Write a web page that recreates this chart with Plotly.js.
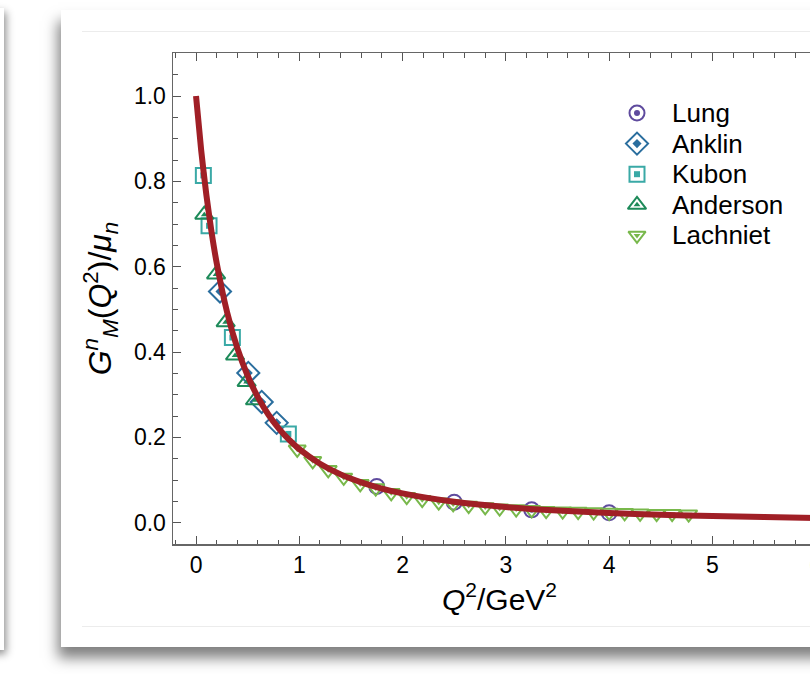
<!DOCTYPE html>
<html>
<head>
<meta charset="utf-8">
<script src="https://cdn.plot.ly/plotly-3.0.1.min.js"></script>
<style>
  html, body { margin:0; padding:0; width:810px; height:674px; overflow:hidden; background:#ffffff; }
  #leftcard { position:absolute; left:-120px; top:8px; width:124px; height:642px; background:#fff; box-shadow: 2px 4px 8px rgba(0,0,0,0.45); }
  #card { position:absolute; left:61px; top:10px; width:900px; height:637px; background:#fff; box-shadow: -3px 11px 13px rgba(0,0,0,0.5); }
  .hline { position:absolute; left:82px; width:800px; height:1px; background:#ececec; }
  #plot { position:absolute; left:0; top:0; width:900px; height:674px; }
</style>
</head>
<body>
<div id="leftcard"></div>
<div id="card"></div>
<div class="hline" style="top:31px"></div>
<div class="hline" style="top:626px"></div>
<div id="plot"></div>
<script>
// ---- data ----
const lungQ2 = [1.75, 2.50, 3.25, 4.00];
const lungG  = [0.085, 0.048, 0.030, 0.023];

const anklinQ2 = [0.232, 0.506, 0.636, 0.781];
const anklinG  = [0.542, 0.351, 0.283, 0.234];

const kubonQ2 = [0.071, 0.126, 0.352, 0.894];
const kubonG  = [0.814, 0.696, 0.434, 0.208];

const andersonQ2 = [0.080, 0.194, 0.287, 0.378, 0.490, 0.571];
const andersonG  = [0.722, 0.582, 0.470, 0.392, 0.330, 0.287];

const lachnietQ2 = [0.98, 1.13, 1.28, 1.43, 1.59, 1.74, 1.89, 2.04, 2.19, 2.35, 2.49, 2.64, 2.80,
                    2.94, 3.10, 3.25, 3.39, 3.55, 3.70, 3.85, 4.00, 4.15, 4.30, 4.46, 4.61, 4.77];
const lachnietG  = [0.172, 0.145, 0.124, 0.106, 0.091, 0.081, 0.070, 0.061, 0.054, 0.048, 0.044, 0.040, 0.037,
                    0.034, 0.032, 0.030, 0.028, 0.027, 0.026, 0.025, 0.024, 0.023, 0.022, 0.021, 0.021, 0.020];

const curveQ2 = [0, 0.05, 0.1, 0.15, 0.2, 0.3, 0.4, 0.5, 0.6, 0.7, 0.8, 0.9, 1.0, 1.2, 1.4, 1.6, 1.8, 2.0,
                 2.5, 3.0, 3.5, 4.0, 4.5, 5.0, 5.5, 6.0, 6.5];
const curveG  = [1.0, 0.8728, 0.7684, 0.6816, 0.6088, 0.4942, 0.4091, 0.3443, 0.2937, 0.2536, 0.2211, 0.1945,
                 0.1724, 0.1382, 0.1132, 0.0945, 0.0800, 0.0686, 0.0489, 0.0366, 0.0284, 0.0227, 0.0186,
                 0.0155, 0.0131, 0.0112, 0.0097];

const seriesNames  = ["Lung", "Anklin", "Kubon", "Anderson", "Lachniet"];
const seriesColors = ["#5f4b9e", "#2a6e9e", "#3aa9a6", "#1d8a59", "#78b84b"];
const xTickVals = [0, 1, 2, 3, 4, 5, 6];
const yTickVals = [0.0, 0.2, 0.4, 0.6, 0.8, 1.0];

// ---- styles ----
const FONT = "Liberation Sans, Arial, Helvetica, sans-serif";
const outerSym = ["circle-open", "diamond-open", "square-open", "triangle-up-open", "triangle-down-open"];
const innerSym = ["circle", "diamond", "square", "triangle-up", "triangle-down"];
const outerSize = [15, 17, 15, 16, 15];
const innerSize = [6, 7, 6, 6, 6];

// plot-area geometry in pixels (for the hand-made legend placement)
const PL = 173, PT = 53, PW = 653, PH = 491;
const legSymX = 637, legTextX = 670, legY0 = 113, legDY = 30.6;

function xs(i) { return [lungQ2, anklinQ2, kubonQ2, andersonQ2, lachnietQ2][i]; }
function ys(i) { return [lungG, anklinG, kubonG, andersonG, lachnietG][i]; }

const traces = [];
const annotations = [];
for (let i = 0; i < 5; i++) {
  traces.push({
    x: xs(i), y: ys(i), type: "scatter", mode: "markers", name: seriesNames[i], showlegend: false,
    marker: { symbol: outerSym[i], size: outerSize[i], color: seriesColors[i],
              line: { color: seriesColors[i], width: 2 } }
  });
  traces.push({
    x: xs(i), y: ys(i), type: "scatter", mode: "markers", name: seriesNames[i], showlegend: false, hoverinfo: "skip",
    marker: { symbol: innerSym[i], size: innerSize[i], color: seriesColors[i] }
  });
}

traces.push({
  x: curveQ2, y: curveG, type: "scatter", mode: "lines", showlegend: false, name: "fit",
  line: { color: "#a01f26", width: 6, shape: "spline", smoothing: 0.6 }
});

// legend (symbols on an overlay axis in [0,1] plot-fraction units, names as annotations)
const legX = [], legY = [];
for (let i = 0; i < 5; i++) {
  legX.push((legSymX - PL) / PW);
  legY.push((PT + PH - (legY0 + i * legDY)) / PH);
}
for (let i = 0; i < 5; i++) {
  traces.push({
    x: [legX[i]], y: [legY[i]], xaxis: "x2", yaxis: "y2", type: "scatter", mode: "markers",
    name: seriesNames[i], showlegend: false, hoverinfo: "skip",
    marker: { symbol: outerSym[i], size: outerSize[i], color: seriesColors[i],
              line: { color: seriesColors[i], width: 2 } }
  });
  traces.push({
    x: [legX[i]], y: [legY[i]], xaxis: "x2", yaxis: "y2", type: "scatter", mode: "markers",
    name: seriesNames[i], showlegend: false, hoverinfo: "skip",
    marker: { symbol: innerSym[i], size: innerSize[i], color: seriesColors[i] }
  });
  annotations.push({
    text: seriesNames[i], xref: "paper", yref: "paper",
    x: (legTextX - PL) / PW, y: legY[i], xanchor: "left", yanchor: "middle",
    showarrow: false, font: { family: FONT, size: 26, color: "#000" }
  });
}

const layout = {
  width: 900, height: 674,
  margin: { l: PL, t: PT, r: 900 - PL - PW, b: 674 - PT - PH },
  paper_bgcolor: "rgba(0,0,0,0)",
  plot_bgcolor: "#ffffff",
  font: { family: FONT, size: 23, color: "#000" },
  showlegend: false,
  annotations: annotations,
  xaxis: {
    range: [-0.223, 6.1], tickvals: xTickVals, ticktext: xTickVals.map(String),
    ticks: "inside", ticklen: 8, tickwidth: 1, tickcolor: "#555",
    minor: { dtick: 0.2, tick0: 0, ticks: "inside", ticklen: 4.5, tickcolor: "#555", tickwidth: 1, showgrid: false },
    showline: true, linecolor: "#666", linewidth: 1.5, mirror: "ticks",
    showgrid: false, zeroline: false, ticklabelstandoff: 0,
    tickfont: { family: FONT, size: 23, color: "#000" },
    title: { text: "<i>Q</i><sup>2</sup>/GeV<sup>2</sup>", font: { family: FONT, size: 30, color: "#000" }, standoff: 0 }
  },
  yaxis: {
    range: [-0.05, 1.101], tickvals: yTickVals, ticktext: yTickVals.map(v => v.toFixed(1)),
    ticks: "inside", ticklen: 8, tickwidth: 1, tickcolor: "#555",
    minor: { dtick: 0.05, tick0: 0, ticks: "inside", ticklen: 4.5, tickcolor: "#555", tickwidth: 1, showgrid: false },
    showline: true, linecolor: "#666", linewidth: 1.5, mirror: "ticks",
    showgrid: false, zeroline: false, ticklabelstandoff: 1,
    tickfont: { family: FONT, size: 23, color: "#000" },
    title: { text: "<i>G</i><sup><i>n</i></sup><sub><i>M</i></sub>(<i>Q</i><sup>2</sup>)/<i>μ</i><sub><i>n</i></sub>",
             font: { family: FONT, size: 32, color: "#000" }, standoff: 12 }
  },
  xaxis2: { overlaying: "x", range: [0, 1], visible: false, fixedrange: true },
  yaxis2: { overlaying: "y", range: [0, 1], visible: false, fixedrange: true }
};

Plotly.newPlot("plot", traces, layout, { displayModeBar: false, staticPlot: true });
</script>
</body>
</html>
